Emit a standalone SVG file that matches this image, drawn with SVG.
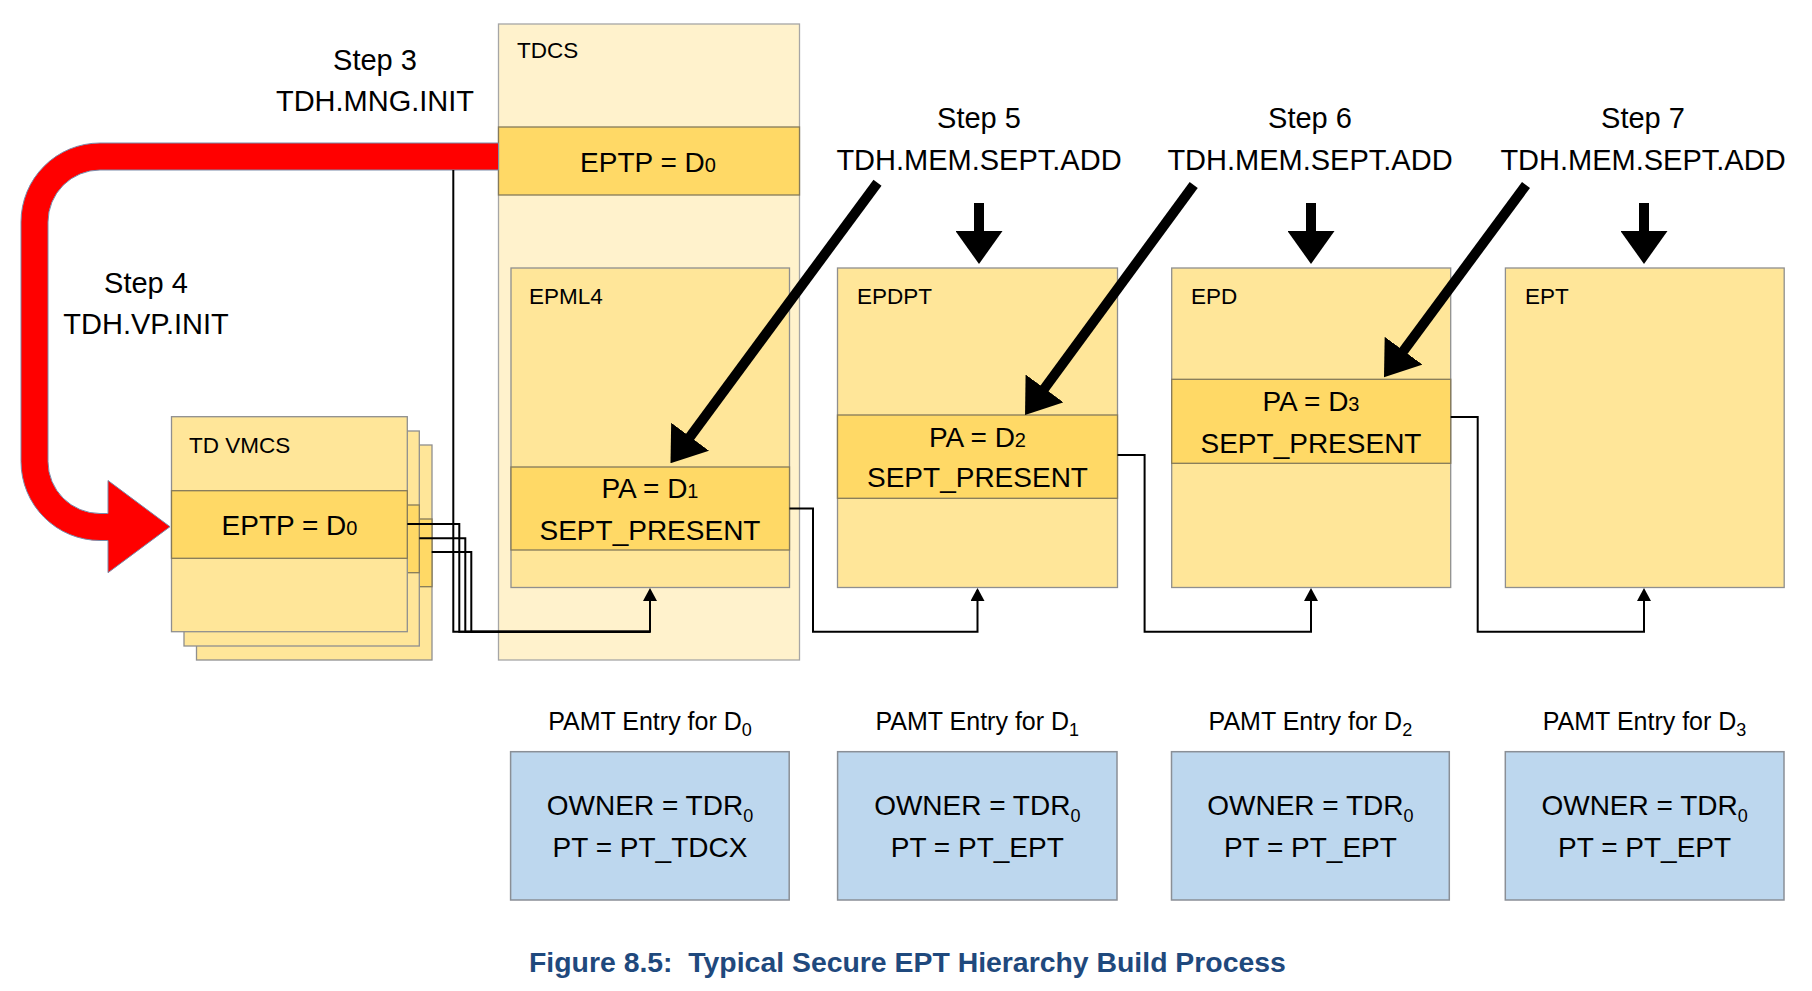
<svg xmlns="http://www.w3.org/2000/svg" width="1812" height="991" viewBox="0 0 1812 991">
<style>
text{font-family:"Liberation Sans",Arial,sans-serif;fill:#000}
.step{font-size:29px;text-anchor:middle}
.lbl{font-size:22.5px}
.row{font-size:28px;text-anchor:middle}
.pl{font-size:25px;text-anchor:middle}
.pt{font-size:28px;text-anchor:middle}
.sm{font-size:20px}
.sub{font-size:18px}
.outer{fill:#FFF2CC;stroke:#A6A6A6;stroke-width:1.3}
.box{fill:#FFE699;stroke:#8F8F8F;stroke-width:1.3}
.rw{fill:#FFD966;stroke:#857A5A;stroke-width:1.3}
.pamt{fill:#BDD7EE;stroke:#8A8F96;stroke-width:1.5}
.thin{fill:none;stroke:#000;stroke-width:2}
.big{fill:none;stroke:#000;stroke-width:10}
.cap{font-size:28.4px;font-weight:bold;fill:#1F497D}
</style>
<defs>
<marker id="bigHead" markerUnits="userSpaceOnUse" markerWidth="33" markerHeight="47" viewBox="0 0 33 47" refX="18" refY="23.5" orient="auto">
<path d="M0,0 L33,23.5 L0,47 Z" fill="#000"/>
</marker>
<marker id="thinHead" markerUnits="userSpaceOnUse" markerWidth="13" markerHeight="14" viewBox="0 0 13 14" refX="11" refY="7" orient="auto">
<path d="M0,0 L13,7 L0,14 Z" fill="#000"/>
</marker>
</defs>
<rect width="1812" height="991" fill="#fff"/>

<g id="tdcs">
<rect class="outer" x="498.5" y="24" width="301" height="636"/>
<text class="lbl" x="517" y="58">TDCS</text>
<rect class="rw" x="498.5" y="127" width="301" height="68"/>
<text class="row" x="648" y="172">EPTP = D<tspan class="sm">0</tspan></text>
</g>

<g id="td-vmcs">
<rect class="box" x="196.5" y="445" width="235.5" height="215"/>
<rect class="rw" x="196.5" y="519" width="235.5" height="67.7"/>
<rect class="box" x="184" y="431" width="235.3" height="215"/>
<rect class="rw" x="184" y="505" width="235.3" height="67.7"/>
<rect class="box" x="171.5" y="416.7" width="235.8" height="215"/>
<rect class="rw" x="171.5" y="490.7" width="235.8" height="67.6"/>
<text class="lbl" x="189" y="452.7">TD VMCS</text>
<text class="row" x="289.5" y="535">EPTP = D<tspan class="sm">0</tspan></text>
</g>

<g id="epml4">
<rect class="box" x="511" y="268" width="278.5" height="319.5"/>
<text class="lbl" x="529" y="304">EPML4</text>
<rect class="rw" x="511" y="467" width="278.5" height="83"/>
<text class="row" x="650" y="498">PA = D<tspan class="sm">1</tspan></text>
<text class="row" x="650" y="540">SEPT_PRESENT</text>
</g>

<g id="epdpt">
<rect class="box" x="837.5" y="268" width="280" height="319.5"/>
<text class="lbl" x="857" y="304">EPDPT</text>
<rect class="rw" x="837.5" y="415" width="280" height="83.3"/>
<text class="row" x="977.5" y="446.7">PA = D<tspan class="sm">2</tspan></text>
<text class="row" x="977.5" y="486.7">SEPT_PRESENT</text>
</g>

<g id="epd">
<rect class="box" x="1171.7" y="268" width="279" height="319.5"/>
<text class="lbl" x="1191" y="304">EPD</text>
<rect class="rw" x="1171.7" y="379.3" width="279" height="84"/>
<text class="row" x="1311" y="411">PA = D<tspan class="sm">3</tspan></text>
<text class="row" x="1311" y="453">SEPT_PRESENT</text>
</g>

<g id="ept">
<rect class="box" x="1505.4" y="268" width="278.8" height="319.5"/>
<text class="lbl" x="1525" y="304">EPT</text>
</g>

<g id="step3">
<text class="step" x="375" y="70">Step 3</text>
<text class="step" x="375" y="111">TDH.MNG.INIT</text>
</g>
<g id="step4">
<text class="step" x="146" y="293">Step 4</text>
<text class="step" x="146" y="334">TDH.VP.INIT</text>
</g>
<g id="step5">
<text class="step" x="979" y="128.3">Step 5</text>
<text class="step" x="979" y="170">TDH.MEM.SEPT.ADD</text>
</g>
<g id="step6">
<text class="step" x="1310" y="128.3">Step 6</text>
<text class="step" x="1310" y="170">TDH.MEM.SEPT.ADD</text>
</g>
<g id="step7">
<text class="step" x="1643" y="128.3">Step 7</text>
<text class="step" x="1643" y="170">TDH.MEM.SEPT.ADD</text>
</g>

<g id="pamt-d0">
<text class="pl" x="650" y="730">PAMT Entry for D<tspan class="sub" dy="6">0</tspan></text>
<rect class="pamt" x="510.6" y="751.7" width="278.6" height="148.3"/>
<text class="pt" x="650" y="815">OWNER = TDR<tspan class="sub" dy="7">0</tspan></text>
<text class="pt" x="650" y="856.7">PT = PT_TDCX</text>
</g>
<g id="pamt-d1">
<text class="pl" x="977.3" y="730">PAMT Entry for D<tspan class="sub" dy="6">1</tspan></text>
<rect class="pamt" x="837.6" y="751.7" width="279.4" height="148.3"/>
<text class="pt" x="977.3" y="815">OWNER = TDR<tspan class="sub" dy="7">0</tspan></text>
<text class="pt" x="977.3" y="856.7">PT = PT_EPT</text>
</g>
<g id="pamt-d2">
<text class="pl" x="1310.4" y="730">PAMT Entry for D<tspan class="sub" dy="6">2</tspan></text>
<rect class="pamt" x="1171.5" y="751.7" width="277.8" height="148.3"/>
<text class="pt" x="1310.4" y="815">OWNER = TDR<tspan class="sub" dy="7">0</tspan></text>
<text class="pt" x="1310.4" y="856.7">PT = PT_EPT</text>
</g>
<g id="pamt-d3">
<text class="pl" x="1644.6" y="730">PAMT Entry for D<tspan class="sub" dy="6">3</tspan></text>
<rect class="pamt" x="1505.3" y="751.7" width="278.7" height="148.3"/>
<text class="pt" x="1644.6" y="815">OWNER = TDR<tspan class="sub" dy="7">0</tspan></text>
<text class="pt" x="1644.6" y="856.7">PT = PT_EPT</text>
</g>

<g id="connectors">
<path d="M498.5 143 L100 143 A79 79 0 0 0 21 222 L21 461.5 A79 79 0 0 0 100 540.5 L108 540.5 L108 572.7 L170 526.7 L108 480.5 L108 513.5 L100 513.5 A52 52 0 0 1 48 461.5 L48 222 A52 52 0 0 1 100 170 L498.5 170 Z" fill="#FF0000" stroke="#7A8BAA" stroke-width="1"/>
<path class="thin" d="M453.3 170 L453.3 631.7 L650 631.7"/>
<path class="thin" d="M407.3 524 L459.3 524 L459.3 631.7 L650 631.7"/>
<path class="thin" d="M419.3 538.3 L465.3 538.3 L465.3 631.7 L650 631.7"/>
<path class="thin" d="M431.7 552 L471.3 552 L471.3 631.7 L650 631.7 L650 590" marker-end="url(#thinHead)"/>
<path class="thin" d="M789.5 508.5 L813 508.5 L813 631.7 L977.5 631.7 L977.5 590" marker-end="url(#thinHead)"/>
<path class="thin" d="M1117.5 455 L1144.6 455 L1144.6 631.7 L1311 631.7 L1311 590" marker-end="url(#thinHead)"/>
<path class="thin" d="M1450.7 417 L1477.7 417 L1477.7 631.7 L1644 631.7 L1644 590" marker-end="url(#thinHead)"/>
<path class="big" d="M877.5 182.7 L679.4 451.2" marker-end="url(#bigHead)"/>
<path class="big" d="M1193.7 185 L1033.9 402.9" marker-end="url(#bigHead)"/>
<path class="big" d="M1526 185 L1392.9 365.2" marker-end="url(#bigHead)"/>
<path class="big" d="M979 203 L979 249" marker-end="url(#bigHead)"/>
<path class="big" d="M1311 203 L1311 249" marker-end="url(#bigHead)"/>
<path class="big" d="M1644 203 L1644 249" marker-end="url(#bigHead)"/>
</g>

<text class="cap" x="529" y="971.7" xml:space="preserve">Figure 8.5:  Typical Secure EPT Hierarchy Build Process</text>
</svg>
